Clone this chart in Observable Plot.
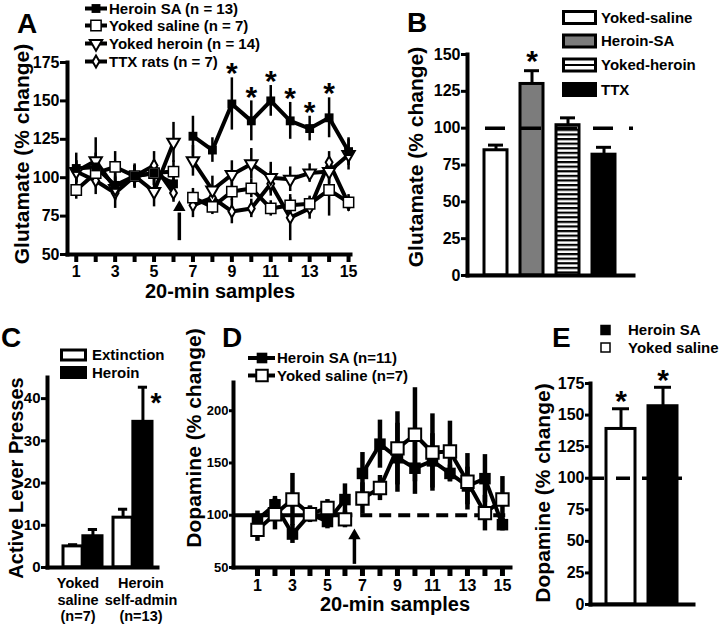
<!DOCTYPE html>
<html>
<head>
<meta charset="utf-8">
<script src="https://cdn.jsdelivr.net/npm/d3@7"></script>
<script src="https://cdn.jsdelivr.net/npm/@observablehq/plot@0.6"></script>
<style>
html,body{margin:0;padding:0;background:#fff;}
#fig{position:relative;width:720px;height:626px;overflow:hidden;background:#fff;}
#fig > svg{position:absolute;overflow:visible;}
</style>
</head>
<body>
<div id="fig"></div>
<script>
// ================= DATA =================
const samples = [1,2,3,4,5,6,7,8,9,10,11,12,13,14,15];

// Panel A – glutamate time course
const glutTicks = [50,75,100,125,150,175];
const glutSeries = ["Heroin SA (n = 13)", "Yoked saline (n = 7)", "Yoked heroin (n = 14)", "TTX rats (n = 7)"];
const glutHeroinSA       = [106,107, 95,101,103, 96,127,118,148,137,150,137,132,139,117];
const glutHeroinSA_se    = [ 10,  9,  9,  8,  8,  8, 13,  8, 17, 13, 10, 12,  8, 13,  9];
const glutYokedSaline    = [ 92,103,107,101,103,104, 87, 81, 91, 93, 80, 82, 83, 92, 84];
const glutYokedSaline_se = [  6,  8, 10,  7,  8,  7,  6,  5,  6,  6,  5,  5,  5, 17,  5];
const glutYokedHeroin    = [104,111, 93,101, 91,123,111, 92,102,109,100, 99,103,104,115];
const glutYokedHeroin_se = [  7, 15,  8,  7, 10, 13, 10,  9,  9, 10, 10,  8,  6,  8, 10];
const glutTTX            = [104, 98, 90,101,108, 90, 82, 87, 78, 80, 96, 74, 80,110, 83];
const glutTTX_se         = [  7,  9, 10,  7,  9,  6,  8,  7,  8,  6,  8, 15,  7,  7,  5];
const glutSigSamples = [9,10,11,12,13,14];

// Panel B – glutamate means
const glutGroups  = ["Yoked-saline", "Heroin-SA", "Yoked-heroin", "TTX"];
const glutMeans   = [85, 130, 102, 82];
const glutMeansSE = [3.5, 9, 5, 5];
const glutMeanTicks = [0,25,50,75,100,125,150];

// Panel C – active lever presses
const leverGroups = ["Yoked saline", "Heroin self-admin"];
const leverGroupLabels = ["Yoked\nsaline\n(n=7)", "Heroin\nself-admin\n(n=13)"];
const leverConditions = ["Extinction", "Heroin"];
const leverExtinction    = [5.0, 11.8];
const leverExtinction_se = [0.4, 2.0];
const leverHeroin        = [7.4, 34.5];
const leverHeroin_se     = [1.6, 8.2];
const leverTicks = [0,10,20,30,40];

// Panel D – dopamine time course
const daSeries = ["Heroin SA (n=11)", "Yoked saline (n=7)"];
const daHeroinSA       = [ 96,110, 82,101, 94,115,140,168,155,145,152,140,128,135, 91];
const daHeroinSA_se    = [  8,  8,  9,  7,  7, 15, 20, 23, 33, 25, 26,  8, 18, 23,  6];
const daYokedSaline    = [ 86,101,115,101,107, 96,116,126,164,177,160,161,132,102,115];
const daYokedSaline_se = [ 11, 15, 25,  8,  8,  8, 15, 12, 35, 45, 37, 29, 27, 17, 22];
const daTicks = [50,100,150,200];

// Panel E – dopamine means
const daGroups  = ["Yoked saline", "Heroin SA"];
const daMeans   = [139, 157];
const daMeansSE = [16, 15];
const daMeanTicks = [0,25,50,75,100,125,150,175];

// annotation constants (drug-onset arrows, baselines)
const glutArrow = [{x: 6.3, from: 59, to: 77, head: 80.6}];
const daArrow   = [{x: 6.54, from: 53, to: 78, head: 80.5}];
const daBaselineSolid  = [{y: 100, x1: -0.37, x2: 6.45}];
const daBaselineDashed = [{y: 100, x1: 6.9, x2: 15.46}];

// ================= HELPERS =================
const FONT = "'Liberation Sans', Arial, Helvetica, sans-serif";
const fig = document.getElementById("fig");
function mount(svg, left, top) {
  svg.style.position = "absolute";
  svg.style.left = left + "px";
  svg.style.top = top + "px";
  fig.appendChild(svg);
  return svg;
}
function st(size) {
  return {fontFamily: FONT, fontWeight: "bold", fontSize: size + "px", overflow: "visible", background: "transparent", color: "#000"};
}
function rows(series, values, ses) {
  return samples.map((s, i) => ({series, sample: s, value: values[i], se: ses[i], phase: s <= 6 ? "pre" : "post"}));
}
const triangleDown = {
  draw(ctx, size) {
    const y = Math.sqrt(size / (3 * Math.sqrt(3)));
    const x = Math.sqrt(3) * y;
    ctx.moveTo(0, 2 * y); ctx.lineTo(x, -y); ctx.lineTo(-x, -y); ctx.closePath();
  }
};
const star = () => "*";

// ================= PANEL A =================
const aHS = rows(glutSeries[0], glutHeroinSA, glutHeroinSA_se);
const aYS = rows(glutSeries[1], glutYokedSaline, glutYokedSaline_se);
const aYH = rows(glutSeries[2], glutYokedHeroin, glutYokedHeroin_se);
const aTT = rows(glutSeries[3], glutTTX, glutTTX_se);
const aAll = [...aHS, ...aYS, ...aYH, ...aTT];

const plotA = Plot.plot({
  width: 365, height: 305,
  marginLeft: 67, marginRight: 15, marginTop: 62, marginBottom: 51,
  style: st(16),
  x: {domain: [0.55, 15.1]},
  y: {domain: [50, 175]},
  marks: [
    Plot.ruleX(aAll, {x: "sample", y1: d => d.value - d.se, y2: d => d.value + d.se, stroke: "#000", strokeWidth: 2.5}),
    Plot.line(aAll, {x: "sample", y: "value", z: d => d.series + d.phase, stroke: "#000", strokeWidth: 4}),
    Plot.dot(aTT, {x: "sample", y: "value", symbol: "diamond", r: 3.6, fill: "#fff", stroke: "#000", strokeWidth: 2}),
    Plot.dot(aYH, {x: "sample", y: "value", symbol: triangleDown, r: 4.6, fill: "#fff", stroke: "#000", strokeWidth: 2}),
    Plot.dot(aYS, {x: "sample", y: "value", symbol: "square", r: 5.8, fill: "#fff", stroke: "#000", strokeWidth: 1.5}),
    Plot.dot(aHS, {x: "sample", y: "value", symbol: "square", r: 5, fill: "#000"}),
    Plot.ruleX(glutArrow, {x: "x", y1: "from", y2: "to", strokeWidth: 3.5}),
    Plot.dot(glutArrow, {x: "x", y: "head", symbol: "triangle", r: 4.6, fill: "#000"}),
    Plot.text(aHS.filter(d => glutSigSamples.includes(d.sample)), {x: "sample", y: d => d.value + d.se, text: star, fontSize: 30, dy: -4}),
    Plot.frame({anchor: "left", strokeWidth: 4}),
    Plot.frame({anchor: "bottom", strokeWidth: 4}),
    Plot.axisY({ticks: glutTicks, tickSize: 7, tickPadding: 1, strokeWidth: 3, label: null}),
    Plot.axisX({ticks: samples, tickSize: 8, tickPadding: 3, strokeWidth: 4, tickFormat: d => d % 2 ? String(d) : "", label: null})
  ]
});
mount(plotA, 0, 0);

// ================= PANEL B =================
const bRows = glutGroups.map((g, i) => ({group: g, value: glutMeans[i], se: glutMeansSE[i]}));
const bFill = {"Yoked-saline": "#fff", "Heroin-SA": "#7c7c7c", "Yoked-heroin": "url(#hstripe)", "TTX": "#000"};
const plotB = Plot.plot({
  width: 350, height: 300,
  marginLeft: 97, marginRight: 87, marginTop: 54, marginBottom: 25,
  style: st(16),
  x: {domain: glutGroups, paddingInner: 0.35, paddingOuter: 0.44, axis: null},
  y: {domain: [0, 150]},
  color: {type: "identity"},
  marks: [
    Plot.barY(bRows, {x: "group", y: "value", fill: d => bFill[d.group], stroke: "#000", strokeWidth: 3}),
    Plot.ruleX(bRows, {x: "group", y1: "value", y2: d => d.value + d.se, strokeWidth: 3}),
    Plot.tickY(bRows, {x: "group", y: d => d.value + d.se, strokeWidth: 3, insetLeft: 4, insetRight: 4}),
    Plot.ruleY([100], {strokeWidth: 3.5, strokeDasharray: "20,16", strokeDashoffset: 18}),
    Plot.text(bRows.filter(d => d.group === "Heroin-SA"), {x: "group", y: d => d.value + d.se, text: star, fontSize: 30, dy: -9}),
    Plot.frame({anchor: "left", strokeWidth: 4}),
    Plot.frame({anchor: "bottom", strokeWidth: 4}),
    Plot.axisY({ticks: glutMeanTicks, tickSize: 6, tickPadding: 1, strokeWidth: 3, label: null})
  ]
});
d3.select(plotB).insert("defs", ":first-child").html(
  '<pattern id="hstripe" x="0" y="0" width="8" height="4.6" patternUnits="userSpaceOnUse">' +
  '<rect width="8" height="4.6" fill="#fff"/><rect width="8" height="2.2" fill="#000"/></pattern>');
mount(plotB, 370, 0);

// ================= PANEL C =================
const cExt = leverGroups.map((g, i) => ({group: g, value: leverExtinction[i], se: leverExtinction_se[i]}));
const cHer = leverGroups.map((g, i) => ({group: g, value: leverHeroin[i], se: leverHeroin_se[i]}));
const cW = 190, cML = 47, cMR = 33, cPI = 0.22, cPO = 0.19;
const cStep = (cW - cML - cMR) / (leverGroups.length - cPI + 2 * cPO);
const cHalf = cStep * (1 - cPI) / 2;
const cLabel = g => leverGroupLabels[leverGroups.indexOf(g)];
const plotC = Plot.plot({
  width: cW, height: 326,
  marginLeft: cML, marginRight: cMR, marginTop: 77, marginBottom: 59,
  style: st(15),
  x: {domain: leverGroups, paddingInner: cPI, paddingOuter: cPO, align: 0.78},
  y: {domain: [0, 45]},
  marks: [
    Plot.barY(cExt, {x: "group", y: "value", insetRight: cHalf, fill: "#fff", stroke: "#000", strokeWidth: 3}),
    Plot.barY(cHer, {x: "group", y: "value", insetLeft: cHalf, fill: "#000", stroke: "#000", strokeWidth: 3}),
    Plot.ruleX(cExt, {x: "group", dx: -cHalf / 2, y1: "value", y2: d => d.value + d.se, strokeWidth: 3}),
    Plot.ruleX(cHer, {x: "group", dx: cHalf / 2, y1: "value", y2: d => d.value + d.se, strokeWidth: 3}),
    Plot.tickY(cExt, {x: "group", y: d => d.value + d.se, insetLeft: cHalf * 0.25, insetRight: cHalf * 1.25, strokeWidth: 3}),
    Plot.tickY(cHer, {x: "group", y: d => d.value + d.se, insetLeft: cHalf * 1.25, insetRight: cHalf * 0.25, strokeWidth: 3}),
    Plot.text(cHer.filter(d => d.group === "Heroin self-admin"), {x: "group", y: d => d.value + d.se, text: star, fontSize: 28, dx: cHalf / 2 + 13, dy: 16}),
    Plot.frame({anchor: "left", strokeWidth: 4}),
    Plot.frame({anchor: "bottom", strokeWidth: 4}),
    Plot.axisY({ticks: leverTicks, tickSize: 6, tickPadding: 1, strokeWidth: 3, label: null}),
    Plot.axisX([leverGroups[0]], {tickSize: 0, tickPadding: 8, dx: -5, lineHeight: 1.17, fontSize: 14.5, tickFormat: cLabel, label: null}),
    Plot.axisX([leverGroups[1]], {tickSize: 0, tickPadding: 8, dx: 8, lineHeight: 1.17, fontSize: 14.5, tickFormat: cLabel, label: null})
  ]
});
mount(plotC, 0, 300);

// ================= PANEL D =================
const dHS = rows(daSeries[0], daHeroinSA, daHeroinSA_se);
const dYS = rows(daSeries[1], daYokedSaline, daYokedSaline_se);
const dAll = [...dHS, ...dYS];
const plotD = Plot.plot({
  width: 330, height: 326,
  marginLeft: 43, marginRight: 10, marginTop: 82, marginBottom: 59,
  style: st(16),
  x: {domain: [-0.37, 15.46]},
  y: {domain: [50, 227]},
  marks: [
    Plot.ruleY(daBaselineSolid, {y: "y", x1: "x1", x2: "x2", strokeWidth: 4}),
    Plot.ruleY(daBaselineDashed, {y: "y", x1: "x1", x2: "x2", strokeWidth: 4, strokeDasharray: "12,7"}),
    Plot.ruleX(dAll, {x: "sample", y1: d => d.value - d.se, y2: d => d.value + d.se, strokeWidth: 4.5}),
    Plot.line(dAll, {x: "sample", y: "value", z: d => d.series + d.phase, stroke: "#000", strokeWidth: 4}),
    Plot.dot(dHS, {x: "sample", y: "value", symbol: "square", r: 6.5, fill: "#000"}),
    Plot.dot(dYS, {x: "sample", y: "value", symbol: "square", r: 7, fill: "#fff", stroke: "#000", strokeWidth: 2}),
    Plot.ruleX(daArrow, {x: "x", y1: "from", y2: "to", strokeWidth: 3.5}),
    Plot.dot(daArrow, {x: "x", y: "head", symbol: "triangle", r: 4.6, fill: "#000"}),
    Plot.frame({anchor: "left", strokeWidth: 4}),
    Plot.frame({anchor: "bottom", strokeWidth: 4}),
    Plot.axisY({ticks: daTicks, tickSize: 4, tickPadding: 1, strokeWidth: 3, fontSize: 13, label: null}),
    Plot.axisX({ticks: samples, tickSize: 9, tickPadding: 3, strokeWidth: 5, tickFormat: d => d % 2 ? String(d) : "", label: null})
  ]
});
mount(plotD, 190, 300);

// ================= PANEL E =================
const eRows = daGroups.map((g, i) => ({group: g, value: daMeans[i], se: daMeansSE[i]}));
const eFill = {"Yoked saline": "#fff", "Heroin SA": "#000"};
const plotE = Plot.plot({
  width: 200, height: 326,
  marginLeft: 70, marginRight: 27, marginTop: 83, marginBottom: 22,
  style: st(16),
  x: {domain: daGroups, paddingInner: 0.3, paddingOuter: 0.36, axis: null},
  y: {domain: [0, 175]},
  color: {type: "identity"},
  marks: [
    Plot.barY(eRows, {x: "group", y: "value", fill: d => eFill[d.group], stroke: "#000", strokeWidth: 3}),
    Plot.ruleX(eRows, {x: "group", y1: "value", y2: d => d.value + d.se, strokeWidth: 3}),
    Plot.tickY(eRows, {x: "group", y: d => d.value + d.se, strokeWidth: 3, insetLeft: 6, insetRight: 6}),
    Plot.ruleY([100], {strokeWidth: 3.5, strokeDasharray: "14,12"}),
    Plot.text(eRows, {x: "group", y: d => d.value + d.se, text: star, fontSize: 30, dy: -7}),
    Plot.frame({anchor: "left", strokeWidth: 4}),
    Plot.frame({anchor: "bottom", strokeWidth: 4}),
    Plot.axisY({ticks: daMeanTicks, tickSize: 5, tickPadding: 1, strokeWidth: 3, label: null})
  ]
});
mount(plotE, 520, 300);

// ================= TEXT OVERLAY: panel letters, axis titles, legends =================
const ov = d3.select(fig).append("svg")
  .attr("width", 720).attr("height", 626)
  .style("left", "0px").style("top", "0px")
  .style("font-family", FONT).style("font-weight", "bold")
  .style("pointer-events", "none");

function txt(x, y, s, size, anchor = "start", rot = 0) {
  const t = ov.append("text").attr("x", x).attr("y", y).attr("font-size", size)
    .attr("text-anchor", anchor).attr("fill", "#000").text(s);
  if (rot) t.attr("transform", `rotate(${rot},${x},${y})`);
  return t;
}
function sym(type, r, x, y, fill, stroke, sw) {
  ov.append("path").attr("d", d3.symbol(type, Math.PI * r * r)())
    .attr("transform", `translate(${x},${y})`)
    .attr("fill", fill).attr("stroke", stroke || "none").attr("stroke-width", sw || 0);
}

// panel letters
txt(17, 33, "A", 28); txt(407, 32, "B", 28); txt(1, 347, "C", 28); txt(222, 347, "D", 28); txt(552, 347, "E", 28);

// axis titles
txt(220, 298, "20-min samples", 20, "middle");
txt(395, 611, "20-min samples", 20, "middle");
txt(29, 154, "Glutamate (% change)", 21, "middle", -90);
txt(423, 157, "Glutamate (% change)", 21, "middle", -90);
txt(23, 478, "Active Lever Presses", 20, "middle", -90);
txt(201, 438, "Dopamine (% change)", 21, "middle", -90);
txt(550, 493, "Dopamine (% change)", 21, "middle", -90);

// legend A
const legA = [8.5, 25.5, 43.5, 61.5];
const legASym = [
  () => sym(d3.symbolSquare, 5, 96, legA[0], "#000"),
  () => sym(d3.symbolSquare, 5.8, 96, legA[1], "#fff", "#000", 1.5),
  () => sym(triangleDown, 4.6, 96, legA[2], "#fff", "#000", 2),
  () => sym(d3.symbolDiamond, 3.6, 96, legA[3], "#fff", "#000", 2)
];
glutSeries.forEach((s, i) => {
  ov.append("line").attr("x1", 85).attr("x2", 107).attr("y1", legA[i]).attr("y2", legA[i]).attr("stroke", "#000").attr("stroke-width", 4);
  legASym[i]();
  txt(109, legA[i] + 5.4, s, 15);
});

// legend B
const legB = [17.5, 41, 65, 89.5];
glutGroups.forEach((g, i) => {
  ov.append("rect").attr("x", 563.5).attr("y", legB[i] - 6).attr("width", 32).attr("height", 12)
    .attr("fill", g === "Yoked-heroin" ? "#fff" : bFill[g]).attr("stroke", "#000").attr("stroke-width", 3);
  if (g === "Yoked-heroin") ov.append("line").attr("x1", 563.5).attr("x2", 595.5).attr("y1", legB[i]).attr("y2", legB[i]).attr("stroke", "#000").attr("stroke-width", 2.2);
  txt(601, legB[i] + 5.4, g, 15);
});

// legend C
const legC = [355, 372.5];
leverConditions.forEach((c, i) => {
  ov.append("rect").attr("x", 61.5).attr("y", legC[i] - 5).attr("width", 24).attr("height", 10)
    .attr("fill", i === 0 ? "#fff" : "#000").attr("stroke", "#000").attr("stroke-width", 3);
  txt(92, legC[i] + 5.4, c, 15);
});

// legend D
const legD = [358, 375.5];
daSeries.forEach((s, i) => {
  ov.append("line").attr("x1", 248).attr("x2", 275).attr("y1", legD[i]).attr("y2", legD[i]).attr("stroke", "#000").attr("stroke-width", 4);
  if (i === 0) sym(d3.symbolSquare, 6, 262, legD[i], "#000");
  else sym(d3.symbolSquare, 6.5, 262, legD[i], "#fff", "#000", 2);
  txt(277, legD[i] + 5.4, s, 15);
});

// legend E (order as in original: Heroin SA first)
const legE = [330, 347.5];
["Heroin SA", "Yoked saline"].forEach((g, i) => {
  ov.append("rect").attr("x", 601).attr("y", legE[i] - 4.5).attr("width", 9).attr("height", 9)
    .attr("fill", eFill[g]).attr("stroke", "#000").attr("stroke-width", 1.5);
  txt(628, legE[i] + 5.4, g, 15);
});
</script>
</body>
</html>
